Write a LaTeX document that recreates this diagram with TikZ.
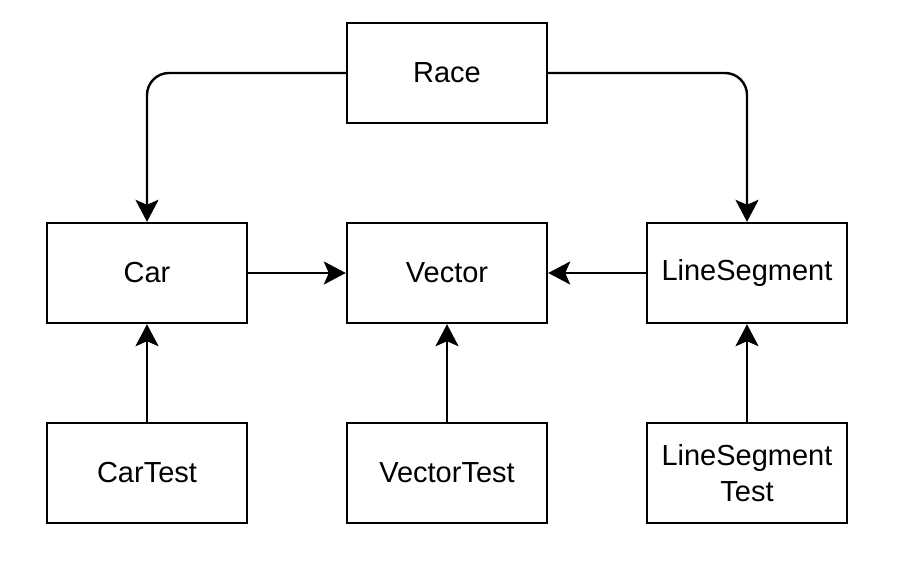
\documentclass[tikz,border=0pt]{standalone}
\usepackage{fontspec}
\setmainfont{Liberation Sans}
\usetikzlibrary{arrows.meta}
\begin{document}
\begin{tikzpicture}[x=1pt,y=-1pt,
  box/.style={draw, line width=2.4pt, minimum width=200pt, minimum height=100pt, inner sep=0pt, align=center, font=\fontsize{29}{36}\selectfont},
  conn/.style={line width=2.4pt, -{Stealth[length=22pt,width=23pt,inset=5pt]}, rounded corners=22pt}]
\useasboundingbox (0,0) rectangle (921,565);
\node[box] (race) at (447,73) {Race};
\node[box] (car) at (147,273) {Car};
\node[box] (vec) at (447,273) {Vector};
\node[box] (seg) at (747,273) {LineSegment};
\node[box] (cart) at (147,473) {CarTest};
\node[box] (vect) at (447,473) {VectorTest};
\node[box] (segt) at (747,473) {LineSegment\\Test};
\draw[conn] (race.west) -| (car.north);
\draw[conn] (race.east) -| (seg.north);
\draw[conn] (car.east) -- (vec.west);
\draw[conn] (seg.west) -- (vec.east);
\draw[conn] (cart.north) -- (car.south);
\draw[conn] (vect.north) -- (vec.south);
\draw[conn] (segt.north) -- (seg.south);
\end{tikzpicture}
\end{document}
